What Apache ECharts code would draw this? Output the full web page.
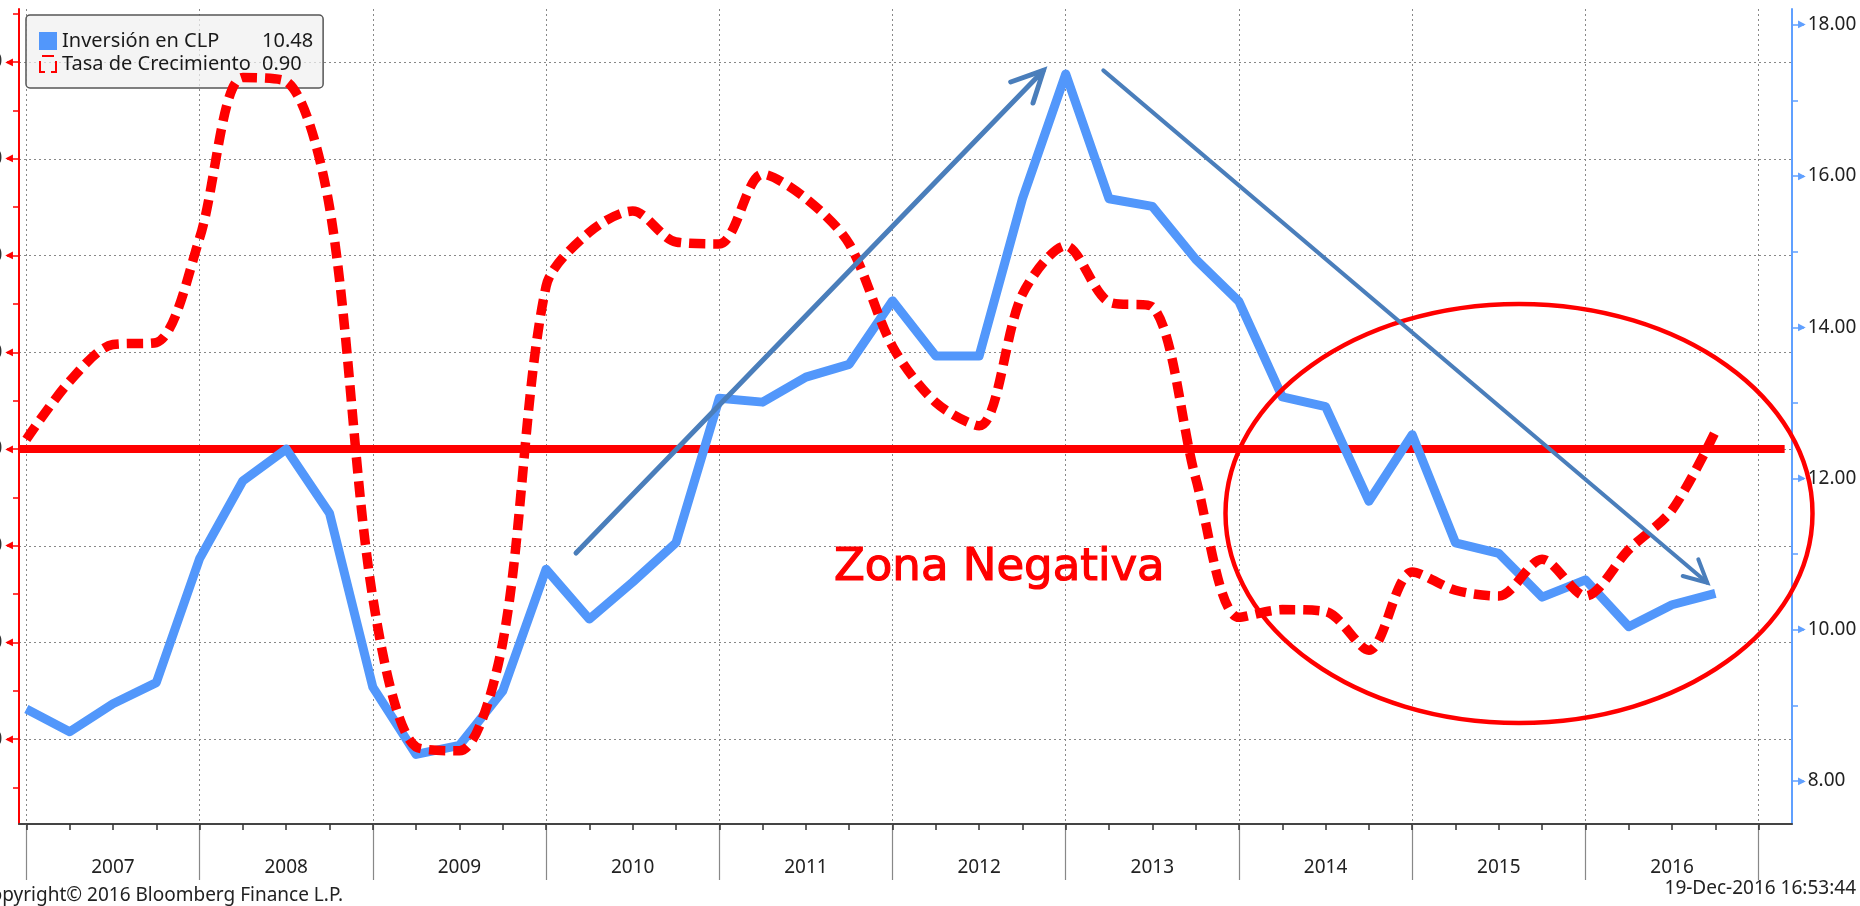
<!DOCTYPE html>
<html>
<head>
<meta charset="utf-8">
<title>Inversión en CLP</title>
<script src="https://cdn.jsdelivr.net/npm/echarts@6.0.0/dist/echarts.min.js"></script>
<style>
  html, body { margin: 0; padding: 0; background: #fff; }
  #chart { width: 1860px; height: 906px; }
</style>
</head>
<body>
<div id="chart"></div>
<script>
// years on the x axis, one quarter per point (Q1 2007 .. Q4 2016)
var years = ['2007', '2008', '2009', '2010', '2011', '2012', '2013', '2014', '2015', '2016'];

// Inversión en CLP (right axis)
var inversion = [8.95, 8.65, 9.02, 9.30, 10.94, 11.97, 12.39, 11.54, 9.24, 8.35,
                 8.47, 9.19, 10.80, 10.14, 10.63, 11.15, 13.06, 13.01, 13.34, 13.51,
                 14.35, 13.62, 13.62, 15.70, 17.35, 15.70, 15.60, 14.90, 14.34, 13.08,
                 12.95, 11.70, 12.58, 11.15, 11.01, 10.43, 10.66, 10.04, 10.33, 10.48];

// Tasa de Crecimiento (left axis)
var tasa = [0.5, 3.5, 5.4, 5.5, 10.9, 19.2, 19.0, 12.5, -7.7, -15.4,
            -15.6, -10.0, 8.4, 11.2, 12.3, 10.7, 10.6, 14.2, 12.95, 10.6,
            5.3, 2.4, 1.2, 8.0, 10.5, 7.6, 7.35, -1.5, -8.7, -8.3,
            -8.4, -10.4, -6.35, -7.3, -7.6, -5.7, -7.6, -5.2, -3.15, 0.9];

// tick values
var leftTicks = [-15, -10, -5, 0, 5, 10, 15, 20];
var leftMinor = [-17.5, -12.5, -7.5, -2.5, 2.5, 7.5, 12.5, 17.5, 22.5];
var rightTicks = [8, 10, 12, 14, 16, 18];
var rightMinor = [9, 11, 13, 15, 17];

var yearBounds = [];
var yearMids = [];
var quarterTicks = [];
for (var k = 0; k <= years.length; k++) yearBounds.push(k * 4);
for (var k = 0; k < years.length; k++) yearMids.push(k * 4 + 2);
for (var q = 0; q <= years.length * 4; q++) quarterTicks.push(q);

var invData = inversion.map(function (v, i) { return [i, v]; });
var tasaData = tasa.map(function (v, i) { return [i, v]; });

var FONT = 'Noto Sans';
var blue = '#5297fb';
var red = '#ff0000';
var arrowBlue = '#4a7ebb';

var chart = echarts.init(document.getElementById('chart'));

var option = {
    animation: false,
    backgroundColor: '#ffffff',
    grid: {
        left: 19, right: 68, top: 9, bottom: 82,
        containLabel: false,
        outerBoundsMode: 'none'
    },
    legend: {
        left: 26, top: 15,
        orient: 'vertical',
        padding: [16, 10, 14, 13],
        itemGap: 3,
        itemWidth: 18, itemHeight: 18,
        backgroundColor: 'rgba(240,240,240,0.72)',
        borderColor: '#555',
        borderWidth: 1.5,
        borderRadius: 4,
        selectedMode: false,
        itemStyle: { borderWidth: 0 },
        data: [
            { name: 'Inversión en CLP', icon: 'rect' },
            { name: 'Tasa de Crecimiento',
              icon: 'path://M3,0H15V2H3Z M0,6H2V18H0Z M2,16H6V18H2Z M16,6H18V18H16Z M12,16H16V18H12Z' }
        ],
        formatter: function (name) {
            var val = name === 'Inversión en CLP'
                ? inversion[inversion.length - 1] : tasa[tasa.length - 1];
            return '{n|' + name + '}{v|' + val.toFixed(2) + '}';
        },
        textStyle: {
            rich: {
                n: { width: 200, fontSize: 20, fontFamily: FONT, color: '#1a1a1a' },
                v: { width: 50, fontSize: 20, fontFamily: FONT, color: '#1a1a1a' }
            }
        }
    },
    xAxis: [{
        type: 'value',
        min: -0.17, max: 40.77,
        position: 'bottom',
        axisLine: { show: true, onZero: false, lineStyle: { color: '#444', width: 2 } },
        axisTick: { show: true, customValues: yearBounds, length: 56,
                    lineStyle: { color: '#888', width: 1.2 } },
        axisLabel: {
            show: true, customValues: yearMids,
            margin: 44, verticalAlign: 'middle',
            fontSize: 19, fontFamily: FONT, color: '#222',
            formatter: function (v) { return years[Math.round((v - 2) / 4)]; }
        },
        splitLine: { show: true, lineStyle: { color: '#888', width: 1, type: [2, 3] } }
    }, {
        type: 'value',
        min: -0.17, max: 40.77,
        position: 'bottom',
        axisLine: { show: false, onZero: false },
        axisTick: { show: true, customValues: quarterTicks, length: 6,
                    lineStyle: { color: '#333', width: 1.5 } },
        axisLabel: { show: false },
        splitLine: { show: false }
    }],
    yAxis: [{
        type: 'value',
        position: 'left',
        min: -19.38, max: 22.74,
        axisLine: { show: true, onZero: false, lineStyle: { color: red, width: 2 } },
        axisTick: { show: true, customValues: leftTicks, length: 12,
                    lineStyle: { color: red, width: 1.5 } },
        axisLabel: {
            show: true, customValues: leftTicks, margin: 6,
            formatter: function (v) { return '{v|' + v.toFixed(2) + '}{t|◀}'; },
            rich: {
                v: { fontSize: 19, fontFamily: FONT, color: '#333' },
                t: { fontSize: 10, fontFamily: 'DejaVu Sans', color: red, padding: [0, 0, 0, 3] }
            }
        },
        splitLine: { show: true, lineStyle: { color: '#888', width: 1, type: [2, 3] } }
    }, {
        type: 'value',
        position: 'left',
        min: -19.38, max: 22.74,
        axisLine: { show: false, onZero: false },
        axisTick: { show: true, customValues: leftMinor, length: 6,
                    lineStyle: { color: red, width: 1.5 } },
        axisLabel: { show: false },
        splitLine: { show: false }
    }, {
        type: 'value',
        position: 'right',
        min: 7.43, max: 18.21,
        axisLine: { show: true, onZero: false, lineStyle: { color: '#60a0ff', width: 2 } },
        axisTick: { show: true, customValues: rightTicks, length: 12,
                    lineStyle: { color: '#60a0ff', width: 1.5 } },
        axisLabel: {
            show: true, customValues: rightTicks, margin: 6,
            formatter: function (v) { return '{t|▶}{v|' + v.toFixed(2) + '}'; },
            rich: {
                v: { fontSize: 19, fontFamily: FONT, color: '#222', padding: [0, 0, 0, 2] },
                t: { fontSize: 10, fontFamily: 'DejaVu Sans', color: '#60a0ff' }
            }
        },
        splitLine: { show: false }
    }, {
        type: 'value',
        position: 'right',
        min: 7.43, max: 18.21,
        axisLine: { show: false, onZero: false },
        axisTick: { show: true, customValues: rightMinor, length: 6,
                    lineStyle: { color: '#60a0ff', width: 1.5 } },
        axisLabel: { show: false },
        splitLine: { show: false }
    }],
    series: [{
        name: 'Inversión en CLP',
        type: 'line',
        xAxisIndex: 0, yAxisIndex: 2,
        data: invData,
        showSymbol: false,
        symbol: 'none',
        color: blue,
        lineStyle: { color: blue, width: 9, join: 'round' },
        z: 3
    }, {
        name: 'Tasa de Crecimiento',
        type: 'line',
        xAxisIndex: 0, yAxisIndex: 0,
        data: tasaData,
        smooth: 0.3,
        showSymbol: false,
        symbol: 'none',
        color: red,
        lineStyle: { color: red, width: 9.5, type: [16, 8], cap: 'butt' },
        z: 4,
        markLine: {
            silent: true,
            symbol: 'none',
            z: 1,
            label: { show: false },
            lineStyle: { color: red, width: 8, type: 'solid' },
            data: [[{ coord: [-0.17, 0] }, { coord: [40.6, 0] }]]
        }
    }],
    graphic: [
        { type: 'ellipse', z: 100, silent: true,
          shape: { cx: 1519, cy: 513.5, rx: 293.5, ry: 209.5 },
          style: { fill: null, stroke: red, lineWidth: 4.5 } },
        { type: 'line', z: 101, silent: true,
          shape: { x1: 576, y1: 553, x2: 1043, y2: 71 },
          style: { stroke: arrowBlue, lineWidth: 5, lineCap: 'round' } },
        { type: 'polyline', z: 101, silent: true,
          shape: { points: [[1010.7, 82], [1043.5, 70.4], [1033, 103]] },
          style: { stroke: arrowBlue, lineWidth: 5, fill: null, lineCap: 'round' } },
        { type: 'line', z: 101, silent: true,
          shape: { x1: 1103.3, y1: 70.4, x2: 1707, y2: 582.5 },
          style: { stroke: arrowBlue, lineWidth: 4, lineCap: 'round' } },
        { type: 'polyline', z: 101, silent: true,
          shape: { points: [[1682.7, 576], [1707.3, 582.7], [1698.3, 559.3]] },
          style: { stroke: arrowBlue, lineWidth: 4, fill: null, lineCap: 'round' } },
        { type: 'text', z: 102, silent: true,
          style: { text: 'Zona Negativa', x: 834, y: 568, fill: red, stroke: red, lineWidth: 1.2,
                   font: '45px "DejaVu Sans"', textAlign: 'left', textVerticalAlign: 'middle' } },
        { type: 'text', z: 102, silent: true,
          style: { text: 'Copyright\u00a9 2016 Bloomberg Finance L.P.', x: 343, y: 896, fill: '#222',
                   font: '19px "Noto Sans"', textAlign: 'right', textVerticalAlign: 'middle' } },
        { type: 'text', z: 102, silent: true,
          style: { text: '19-Dec-2016 16:53:44', x: 1856, y: 889, fill: '#222',
                   font: '19px "Noto Sans"', textAlign: 'right', textVerticalAlign: 'middle' } }
    ]
};

chart.setOption(option);
</script>
</body>
</html>
